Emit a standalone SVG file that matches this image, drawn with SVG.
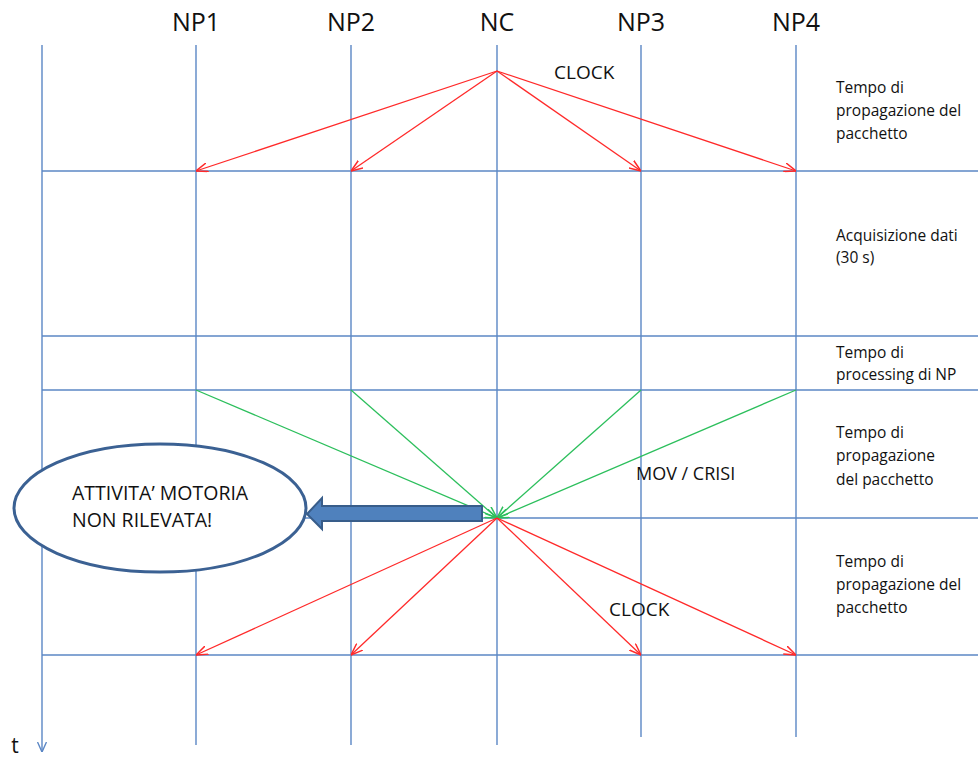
<svg xmlns="http://www.w3.org/2000/svg" width="978" height="760" viewBox="0 0 978 760">
<style>
.grid{stroke:#5b87c5;stroke-width:1.4;fill:none}
.red{stroke:#ff2a2a;stroke-width:1.3;fill:none;marker-end:url(#ra)}
.grn{stroke:#2cbf5c;stroke-width:1.3;fill:none;marker-end:url(#ga)}
.hdr{font-family:"Open Sans","Liberation Sans",sans-serif;font-size:25px;fill:#111;text-anchor:middle}
.lbl{font-family:"Open Sans","Liberation Sans",sans-serif;font-size:15.5px;fill:#111}
.big{font-family:"Open Sans","Liberation Sans",sans-serif;font-size:19px;fill:#111}
</style>
<defs>
<marker id="ra" viewBox="0 0 12 10" refX="12" refY="5" markerWidth="12" markerHeight="10" markerUnits="userSpaceOnUse" orient="auto">
<path d="M0,0.5 L12,5 L0,9.5" fill="none" stroke="#ff2a2a" stroke-width="1.5"/>
</marker>
<marker id="ga" viewBox="0 0 12 10" refX="12" refY="5" markerWidth="12" markerHeight="10" markerUnits="userSpaceOnUse" orient="auto">
<path d="M0,0.5 L12,5 L0,9.5" fill="none" stroke="#2cbf5c" stroke-width="1.5"/>
</marker>
<marker id="ta" viewBox="0 0 10 10" refX="10" refY="5" markerWidth="10" markerHeight="10" markerUnits="userSpaceOnUse" orient="auto">
<path d="M0,0.5 L10,5 L0,9.5" fill="none" stroke="#5b87c5" stroke-width="1.4"/>
</marker>
</defs>
<rect width="978" height="760" fill="#fff"/>
<g id="grid">
<line class="grid" x1="42" y1="45" x2="42" y2="752" marker-end="url(#ta)"/>
<line class="grid" x1="196" y1="45" x2="196" y2="745"/>
<line class="grid" x1="351" y1="45" x2="351" y2="745"/>
<line class="grid" x1="497" y1="45" x2="497" y2="745"/>
<line class="grid" x1="641" y1="45" x2="641" y2="737"/>
<line class="grid" x1="796" y1="45" x2="796" y2="737"/>
<line class="grid" x1="42" y1="171" x2="978" y2="171"/>
<line class="grid" x1="42" y1="336" x2="978" y2="336"/>
<line class="grid" x1="42" y1="390" x2="978" y2="390"/>
<line class="grid" x1="42" y1="518" x2="978" y2="518"/>
<line class="grid" x1="42" y1="655" x2="978" y2="655"/>
</g>
<g id="headers">
<text class="hdr" x="196" y="31">NP1</text>
<text class="hdr" x="351" y="31">NP2</text>
<text class="hdr" x="497" y="31">NC</text>
<text class="hdr" x="641" y="31">NP3</text>
<text class="hdr" x="796" y="31">NP4</text>
<text class="hdr" x="15" y="753" style="font-size:21px">t</text>
</g>
<g id="connectors">
<line class="red" x1="497" y1="71" x2="196" y2="171"/>
<line class="red" x1="497" y1="71" x2="351" y2="171"/>
<line class="red" x1="497" y1="71" x2="641" y2="171"/>
<line class="red" x1="497" y1="71" x2="796" y2="171"/>
<line class="grn" x1="196" y1="390" x2="497" y2="518"/>
<line class="grn" x1="351" y1="390" x2="497" y2="518"/>
<line class="grn" x1="641" y1="390" x2="497" y2="518"/>
<line class="grn" x1="796" y1="390" x2="497" y2="518"/>
<line class="red" x1="497" y1="518" x2="196" y2="655"/>
<line class="red" x1="497" y1="518" x2="351" y2="655"/>
<line class="red" x1="497" y1="518" x2="641" y2="655"/>
<line class="red" x1="497" y1="518" x2="796" y2="655"/>
</g>
<g id="clock-top"><text class="big" x="554" y="79">CLOCK</text></g>
<g id="clock-bottom"><text class="big" x="609" y="616">CLOCK</text></g>
<g id="mov-crisi"><text class="big" x="636" y="480" style="font-size:18px">MOV / CRISI</text></g>
<g id="phase-labels">
<text class="lbl" x="836"><tspan x="836" y="93">Tempo di</tspan><tspan x="836" y="116">propagazione del</tspan><tspan x="836" y="139">pacchetto</tspan></text>
<text class="lbl" x="836"><tspan x="836" y="241">Acquisizione dati</tspan><tspan x="836" y="263">(30 s)</tspan></text>
<text class="lbl" x="836"><tspan x="836" y="358">Tempo di</tspan><tspan x="836" y="380">processing di NP</tspan></text>
<text class="lbl" x="836"><tspan x="836" y="438">Tempo di</tspan><tspan x="836" y="461">propagazione</tspan><tspan x="836" y="485">del pacchetto</tspan></text>
<text class="lbl" x="836"><tspan x="836" y="567">Tempo di</tspan><tspan x="836" y="590">propagazione del</tspan><tspan x="836" y="613">pacchetto</tspan></text>
</g>
<g id="alert">
<ellipse cx="160" cy="508" rx="146" ry="64" fill="#fff" stroke="#3b6193" stroke-width="3"/>
<text class="big" style="font-size:19.5px"><tspan x="72" y="500">ATTIVITA’ MOTORIA</tspan><tspan x="72" y="527">NON RILEVATA!</tspan></text>
</g>
<g id="block-arrow">
<path d="M482,506 L322,506 L322,498 L307,514 L322,529 L322,521 L482,521 Z" fill="#4f81bd" stroke="#385d8a" stroke-width="2"/>
</g>
</svg>
